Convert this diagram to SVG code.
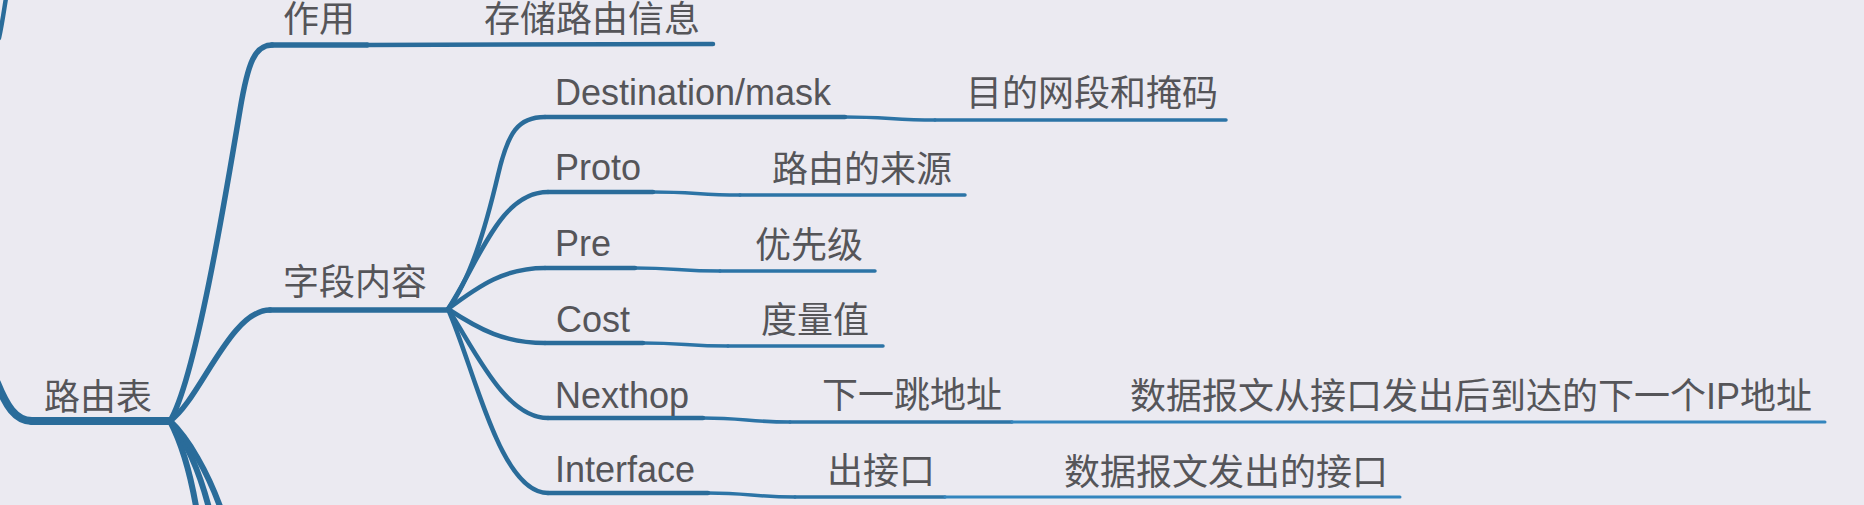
<svg xmlns="http://www.w3.org/2000/svg" width="1864" height="505" viewBox="0 0 1864 505">
<style>
.bg{fill:#ebeaf1}
.c{fill:none;stroke:#2a6c9a;stroke-linecap:round;stroke-linejoin:round}
.l1{stroke-width:8}
.l2{stroke-width:5.5}
.l3{stroke-width:4.5}
.l4{stroke-width:3.5;stroke:#2c74a6}
.l5{stroke-width:3;stroke:#3385be}
.b{stroke-width:6}
text{font-family:"Liberation Sans","Noto Sans CJK SC",sans-serif;fill:#555559}
.t{font-size:36px}
.z{font-size:36px}
</style>
<rect class="bg" x="0" y="0" width="1864" height="505"/>
<g id="connectors">
  <path class="c l3" d="M6,-2 C4,10 2,25 -1,38"/>
  <path class="c l1" d="M-3,383 C6,405 15,421 32,421"/>
  <path class="c l2" d="M170,421 C195,380 225,200 240,110 C248,62 255,45 272,45"/>
  <path class="c l2" d="M170,421 C200,400 230,310 270,310"/>
  <path class="c b" d="M170,421 C180,440 190,470 197,512"/>
  <path class="c b" d="M170,421 C185,440 200,472 210,512"/>
  <path class="c b" d="M170,421 C188,438 208,472 222,512"/>
  <path class="c l3" d="M448,309 C470,280 485,230 498,175 C508,132 518,117 545,117"/>
  <path class="c l3" d="M448,309 C480,260 500,192 548,192"/>
  <path class="c l3" d="M448,309 C480,285 505,268 545,268"/>
  <path class="c l3" d="M448,309 C480,330 505,343 545,343"/>
  <path class="c l3" d="M448,309 C475,350 505,418 548,418"/>
  <path class="c l3" d="M448,309 C475,370 500,493 548,493"/>
  <path class="c l4" d="M845,117 C885,117 895,120 935,120"/>
  <path class="c l4" d="M653,192 C693,192 700,195 740,195"/>
  <path class="c l4" d="M635,268 C675,268 680,271 720,271"/>
  <path class="c l4" d="M643,343 C683,343 688,346 728,346"/>
  <path class="c l4" d="M703,418 C743,418 750,422 790,422"/>
  <path class="c l4" d="M708,493 C748,493 755,497 795,497"/>
</g>
<g id="node-root">
  <path class="c l1" d="M32,421 L170,421"/>
  <text class="z" x="44" y="409.5">路由表</text>
</g>
<g id="node-zuoyong">
  <path class="c l2" d="M272,45 L367,45"/>
  <text class="z" x="283" y="31.5">作用</text>
</g>
<g id="node-cunchu">
  <path class="c l3" d="M367,45 L713,44"/>
  <text class="z" x="484" y="31.5">存储路由信息</text>
</g>
<g id="node-ziduan">
  <path class="c l2" d="M270,310 L448,310"/>
  <text class="z" x="283" y="295">字段内容</text>
</g>
<g id="node-destination">
  <path class="c l3" d="M545,117 L845,117"/>
  <text class="t" x="555" y="105">Destination/mask</text>
</g>
<g id="node-mudi">
  <path class="c l4" d="M935,120 L1226,120"/>
  <text class="z" x="966" y="105.5">目的网段和掩码</text>
</g>
<g id="node-proto">
  <path class="c l3" d="M548,192 L653,192"/>
  <text class="t" x="555" y="180">Proto</text>
</g>
<g id="node-laiyuan">
  <path class="c l4" d="M740,195 L965,195"/>
  <text class="z" x="772" y="181.5">路由的来源</text>
</g>
<g id="node-pre">
  <path class="c l3" d="M545,268 L635,268"/>
  <text class="t" x="555" y="256">Pre</text>
</g>
<g id="node-youxian">
  <path class="c l4" d="M720,271 L875,271"/>
  <text class="z" x="755" y="257.5">优先级</text>
</g>
<g id="node-cost">
  <path class="c l3" d="M545,343 L643,343"/>
  <text class="t" x="556" y="332">Cost</text>
</g>
<g id="node-duliang">
  <path class="c l4" d="M728,346 L883,346"/>
  <text class="z" x="761" y="332.5">度量值</text>
</g>
<g id="node-nexthop">
  <path class="c l3" d="M548,418 L703,418"/>
  <text class="t" x="555" y="408">Nexthop</text>
</g>
<g id="node-xiayitiao">
  <path class="c l4" d="M790,422 L1012,422"/>
  <text class="z" x="822" y="408">下一跳地址</text>
</g>
<g id="node-nexthop-desc">
  <path class="c l5" d="M1012,422 L1825,422"/>
  <text class="z" x="1130" y="409">数据报文从接口发出后到达的下一个IP地址</text>
</g>
<g id="node-interface">
  <path class="c l3" d="M548,493 L708,493"/>
  <text class="t" x="555" y="482">Interface</text>
</g>
<g id="node-chujiekou">
  <path class="c l4" d="M795,497 L945,497"/>
  <text class="z" x="827" y="484">出接口</text>
</g>
<g id="node-interface-desc">
  <path class="c l5" d="M945,497 L1400,497"/>
  <text class="z" x="1064" y="484.5">数据报文发出的接口</text>
</g>
</svg>
